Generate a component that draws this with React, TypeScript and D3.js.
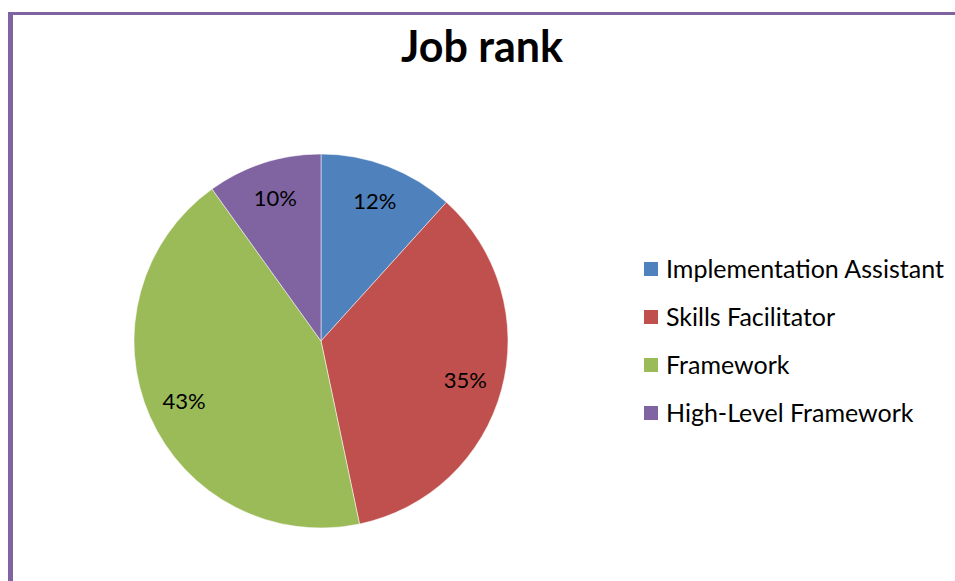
import { useEffect, useRef } from 'react';
import * as d3 from 'd3';

const categories = ['Implementation Assistant', 'Skills Facilitator', 'Framework', 'High-Level Framework'];
const shares = [11.7, 35.0, 43.4, 9.9];
const colors = ['#4F81BD', '#C0504D', '#9BBB59', '#8064A2'];

const WIDTH = 955;
const HEIGHT = 581;
const FONT = 'Lato, "Open Sans", sans-serif';

export default function App() {
  const svgRef = useRef<SVGSVGElement>(null);

  useEffect(() => {
    if (!svgRef.current) return;
    const svg = d3.select(svgRef.current);
    svg.selectAll('*').remove();

    svg.append('rect').attr('width', WIDTH).attr('height', HEIGHT).attr('fill', '#fff');

    // frame (only top and left edges are visible in the crop)
    svg.append('rect').attr('x', 8).attr('y', 12).attr('width', WIDTH - 8).attr('height', 3).attr('fill', '#8064A2');
    svg.append('rect').attr('x', 8).attr('y', 12).attr('width', 5).attr('height', HEIGHT - 12).attr('fill', '#8064A2');

    svg.append('text')
      .attr('x', 482)
      .attr('y', 62)
      .attr('text-anchor', 'middle')
      .attr('font-family', FONT)
      .attr('font-weight', 'bold')
      .attr('font-size', 43)
      .attr('fill', '#000')
      .text('Job rank');

    const cx = 321;
    const cy = 341;
    const radius = 187;
    const total = d3.sum(shares);

    const pie = d3.pie<number>().sort(null).value((d) => d);
    const arcs = pie(shares);
    const arc = d3.arc<d3.PieArcDatum<number>>().innerRadius(0).outerRadius(radius);
    const labelArc = d3.arc<d3.PieArcDatum<number>>().innerRadius(radius * 0.8).outerRadius(radius * 0.8);

    const g = svg.append('g').attr('transform', `translate(${cx},${cy})`);

    g.selectAll('path')
      .data(arcs)
      .join('path')
      .attr('d', arc)
      .attr('fill', (_, i) => colors[i])
      .attr('stroke', '#fff')
      .attr('stroke-width', 0.5);

    g.selectAll('text')
      .data(arcs)
      .join('text')
      .attr('transform', (d) => `translate(${labelArc.centroid(d)})`)
      .attr('text-anchor', 'middle')
      .attr('dy', '0.35em')
      .attr('font-family', FONT)
      .attr('font-size', 22)
      .attr('fill', '#000')
      .text((d) => `${Math.round((d.value / total) * 100)}%`);

    const legendY = d3.scalePoint<string>().domain(categories).range([269, 413]);
    const legend = svg.append('g');
    const items = legend.selectAll('g')
      .data(categories)
      .join('g')
      .attr('transform', (d) => `translate(644,${legendY(d)})`);

    items.append('rect')
      .attr('x', 0)
      .attr('y', -7)
      .attr('width', 14)
      .attr('height', 14)
      .attr('fill', (_, i) => colors[i]);

    items.append('text')
      .attr('x', 22)
      .attr('dy', '0.35em')
      .attr('font-family', FONT)
      .attr('font-size', 25)
      .attr('fill', '#000')
      .text((d) => d);
  }, []);

  return (
    <svg
      ref={svgRef}
      width={WIDTH}
      height={HEIGHT}
      style={{ position: 'fixed', top: 0, left: 0, display: 'block' }}
    />
  );
}
